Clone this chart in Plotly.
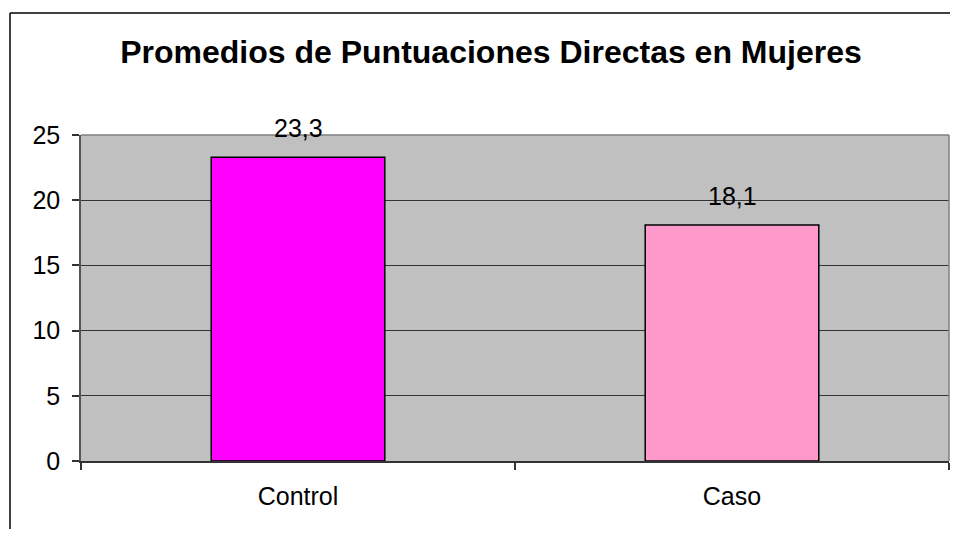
import plotly.graph_objects as go

# -- data --
categories = ["Control", "Caso"]
values = [23.3, 18.1]
bar_colors = ["#FF00FF", "#FF99CC"]
y_ticks = [0, 5, 10, 15, 20, 25]
title_text = "Promedios de Puntuaciones Directas en Mujeres"

# page has an 8px body margin on every side; keep the figure inside the
# window so no scrollbars appear, and offset every pixel position by 8
OFF = 8
W, H = 958 - 2 * OFF, 537 - 2 * OFF
# plot area in figure pixels
L, R, T, B = 81 - OFF, W - 1, 135 - OFF, 461 - OFF
pw, ph = R - L, B - T


def px_x(x):
    return (x - OFF - L) / pw


def px_y(y):
    return (B - (y - OFF)) / ph


fig = go.Figure()
fig.add_trace(
    go.Bar(
        x=categories,
        y=values,
        marker=dict(color=bar_colors, line=dict(color="#000000", width=1.5)),
        width=0.4,
        showlegend=False,
        hoverinfo="x+y",
    )
)

# value labels above bars (comma decimal)
for c, v in zip(categories, values):
    fig.add_annotation(
        x=c, y=v, xref="x", yref="y",
        text=f"{v:.1f}".replace(".", ","),
        showarrow=False, yanchor="middle", yshift=29,
        font=dict(family="Liberation Sans, Arial", size=25, color="#000000"),
    )

shapes = [
    # plot area top/right border (gray)
    dict(type="line", xref="paper", yref="paper", x0=0, x1=1, y0=1, y1=1,
         line=dict(color="#808080", width=1.5), layer="above"),
    dict(type="line", xref="paper", yref="paper", x0=1, x1=1, y0=0, y1=1,
         line=dict(color="#808080", width=1.5), layer="above"),
    # outer chart border: only top and left edges are inside the picture
    dict(type="line", xref="paper", yref="paper",
         x0=px_x(10), x1=px_x(990), y0=px_y(13), y1=px_y(13),
         line=dict(color="#000000", width=1.5)),
    dict(type="line", xref="paper", yref="paper",
         x0=px_x(10), x1=px_x(10), y0=px_y(13), y1=px_y(560),
         line=dict(color="#000000", width=1.5)),
]

fig.update_layout(
    width=W, height=H,
    margin=dict(l=L, r=W - R, t=T, b=H - B),
    paper_bgcolor="#FFFFFF",
    plot_bgcolor="#C0C0C0",
    separators=",.",
    bargap=0.6,
    shapes=shapes,
    title=dict(
        text=f"<b>{title_text}</b>",
        x=(491 - OFF) / W, xanchor="center", xref="container",
        y=1 - (52 - OFF) / H, yanchor="middle", yref="container",
        font=dict(family="Liberation Sans, Arial", size=32, color="#000000"),
    ),
    font=dict(family="Liberation Sans, Arial", color="#000000"),
)

fig.update_xaxes(
    showgrid=False,
    showline=True, linecolor="#333333", linewidth=2,
    ticks="outside", ticklen=7, tickwidth=1.5, tickcolor="#333333",
    tickson="boundaries",
    ticklabelstandoff=12,
    tickfont=dict(size=25, color="#000000"),
    fixedrange=True,
)
fig.update_yaxes(
    range=[0, 25],
    tickvals=y_ticks,
    showgrid=True, gridcolor="#333333", gridwidth=1,
    zeroline=False,
    showline=True, linecolor="#555555", linewidth=1.5,
    ticks="outside", ticklen=7, tickwidth=1.5, tickcolor="#333333",
    ticklabelstandoff=7,
    tickfont=dict(size=25, color="#000000"),
    fixedrange=True,
)

fig.write_html("out.html")
